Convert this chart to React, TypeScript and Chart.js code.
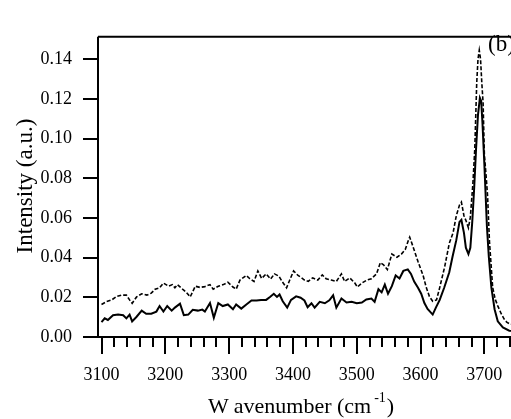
import { useEffect, useRef } from "react";
import { Chart, registerables } from "chart.js";

Chart.register(...registerables);

const FONT = '"Liberation Serif", "Times New Roman", serif';

// Solid trace
const solidWavenumber = [
  3100, 3105, 3110, 3118, 3126, 3134, 3139, 3144, 3148, 3155, 3163, 3170, 3178, 3186, 3191, 3197,
  3203, 3210, 3215, 3223, 3229, 3236, 3243, 3251, 3258, 3262, 3270, 3276, 3283, 3290, 3298, 3306,
  3311, 3319, 3327, 3335, 3343, 3350, 3358, 3364, 3370, 3375, 3379, 3384, 3391, 3397, 3405, 3412,
  3418, 3423, 3429, 3434, 3442, 3450, 3457, 3463, 3468, 3476, 3484, 3492, 3500, 3508, 3515, 3523,
  3528, 3534, 3539, 3544, 3549, 3555, 3561, 3567, 3573, 3580, 3585, 3590, 3596, 3601, 3606, 3611,
  3619, 3624, 3630, 3637, 3645, 3650, 3656, 3661, 3664, 3668, 3671, 3675, 3678, 3681, 3684, 3687,
  3690, 3693, 3695, 3697, 3700, 3704, 3707, 3711, 3716, 3721, 3729, 3739, 3760,
];
const solidIntensity = [
  0.0075, 0.0094, 0.0086, 0.011, 0.0113, 0.011, 0.0094, 0.0113, 0.0079, 0.0102, 0.0133, 0.0117, 0.0117, 0.0128, 0.0156, 0.0128,
  0.0156, 0.0133, 0.0148, 0.0168, 0.011, 0.0113, 0.0137, 0.0133, 0.0138, 0.0128, 0.0171, 0.0097, 0.0171, 0.0156, 0.0164, 0.014,
  0.0164, 0.0143, 0.0164, 0.0184, 0.0184, 0.0187, 0.0187, 0.0202, 0.0218, 0.0202, 0.0214, 0.018, 0.0148, 0.0187, 0.0205, 0.0198,
  0.0184, 0.015, 0.017, 0.0148, 0.0177, 0.017, 0.0185, 0.021, 0.0148, 0.0194, 0.0174, 0.0177, 0.017, 0.0174, 0.0189, 0.0194,
  0.0177, 0.0241, 0.0225, 0.0264, 0.0218, 0.0256, 0.031, 0.0295, 0.0333, 0.0341, 0.0318, 0.0279, 0.0248, 0.0218, 0.0171, 0.0141,
  0.0113, 0.0148, 0.0187, 0.0248, 0.0326, 0.0403, 0.0488, 0.058, 0.059, 0.0525, 0.045, 0.0418, 0.045, 0.058, 0.075, 0.095,
  0.112, 0.1205, 0.119, 0.108, 0.087, 0.0557, 0.0403, 0.0249, 0.014, 0.0079, 0.0048, 0.0032, 0.003,
];

// Dashed trace
const dashedWavenumber = [
  3100, 3108, 3116, 3124, 3131, 3139, 3144, 3148, 3155, 3163, 3171, 3178, 3184, 3191, 3197, 3205,
  3211, 3215, 3219, 3227, 3233, 3239, 3247, 3254, 3262, 3270, 3275, 3283, 3291, 3298, 3306, 3311,
  3317, 3327, 3332, 3339, 3345, 3351, 3358, 3365, 3371, 3378, 3383, 3390, 3395, 3401, 3408, 3413,
  3418, 3424, 3431, 3439, 3446, 3452, 3460, 3468, 3476, 3481, 3489, 3497, 3501, 3508, 3516, 3523,
  3531, 3537, 3542, 3548, 3555, 3563, 3570, 3576, 3581, 3583, 3588, 3596, 3604, 3609, 3614, 3619,
  3625, 3630, 3638, 3645, 3651, 3656, 3661, 3664, 3668, 3671, 3675, 3678, 3682, 3685, 3688, 3690,
  3692, 3694, 3696, 3698, 3700, 3703, 3705, 3708, 3713, 3717, 3721, 3726, 3731, 3735, 3740, 3760,
];
const dashedIntensity = [
  0.0164, 0.0179, 0.0187, 0.0205, 0.0211, 0.0211, 0.0187, 0.017, 0.0202, 0.0218, 0.0211, 0.0221, 0.0241, 0.0248, 0.0272, 0.0256,
  0.0264, 0.0248, 0.0264, 0.0241, 0.0225, 0.0202, 0.0256, 0.025, 0.0254, 0.0264, 0.0241, 0.0256, 0.0264, 0.0276, 0.0252, 0.0241,
  0.0287, 0.031, 0.0295, 0.028, 0.0333, 0.0295, 0.0318, 0.0292, 0.0318, 0.0307, 0.028, 0.0248, 0.0287, 0.0333, 0.031, 0.03,
  0.0287, 0.028, 0.0298, 0.0287, 0.0313, 0.0294, 0.0287, 0.028, 0.0318, 0.028, 0.0298, 0.0272, 0.0252, 0.0272, 0.0287, 0.0294,
  0.0318, 0.0375, 0.0364, 0.034, 0.0418, 0.0402, 0.0418, 0.0441, 0.0488, 0.0503, 0.0457, 0.038, 0.031, 0.0249, 0.0203, 0.018,
  0.0187, 0.0249, 0.0357, 0.0472, 0.0526, 0.0611, 0.0665, 0.068, 0.0611, 0.0588, 0.055, 0.0604, 0.0773, 0.095, 0.128, 0.14,
  0.1445, 0.14, 0.128, 0.118, 0.092, 0.08, 0.0712, 0.048, 0.025, 0.019, 0.0157, 0.012, 0.009, 0.0075, 0.0065, 0.006,
];

const xMajorTicks = [3100, 3200, 3300, 3400, 3500, 3600, 3700];
const xMinorStep = 20;
const yTicks = [0, 0.02, 0.04, 0.06, 0.08, 0.1, 0.12, 0.14];
const X_MIN = 3094.5;
const X_MAX = 3759.6;
const Y_MAX = 0.1513;

const toPoints = (xs: number[], ys: number[]) => xs.map((x, i) => ({ x, y: ys[i] }));

const framePlugin = {
  id: "frame",
  afterDraw(chart: any) {
    const { ctx, chartArea, scales } = chart;
    const { left, right, top, bottom } = chartArea;
    const xs = scales.x;
    const ys = scales.y;
    ctx.save();
    ctx.strokeStyle = "#000";
    ctx.fillStyle = "#000";
    ctx.lineWidth = 2;
    // plot box (the right side runs past the visible page)
    ctx.beginPath();
    ctx.moveTo(left, top);
    ctx.lineTo(right, top);
    ctx.moveTo(left, top);
    ctx.lineTo(left, bottom);
    ctx.moveTo(left, bottom);
    ctx.lineTo(right, bottom);
    ctx.moveTo(right, top);
    ctx.lineTo(right, bottom);
    ctx.stroke();

    // y tick marks (outside)
    ctx.beginPath();
    for (const v of yTicks) {
      const y = Math.round(ys.getPixelForValue(v));
      ctx.moveTo(left - 15, y);
      ctx.lineTo(left, y);
    }
    ctx.stroke();

    // x tick marks (below), long at each hundred
    ctx.beginPath();
    for (let w = 3100; w <= X_MAX; w += xMinorStep) {
      const x = Math.round(xs.getPixelForValue(w));
      const len = w % 100 === 0 ? 17 : 10;
      ctx.moveTo(x, bottom);
      ctx.lineTo(x, bottom + len);
    }
    ctx.stroke();

    // x title with superscript
    ctx.textBaseline = "alphabetic";
    ctx.textAlign = "left";
    ctx.font = `22px ${FONT}`;
    let x = 208;
    ctx.fillText("W", x, 413);
    x += ctx.measureText("W").width + 5;
    const main = "avenumber (cm";
    ctx.fillText(main, x, 413);
    x += ctx.measureText(main).width + 3;
    ctx.font = `14px ${FONT}`;
    ctx.fillText("-1", x, 402);
    x += ctx.measureText("-1").width + 1;
    ctx.font = `22px ${FONT}`;
    ctx.fillText(")", x, 413);

    // y title
    ctx.save();
    ctx.translate(32, 186);
    ctx.rotate(-Math.PI / 2);
    ctx.textAlign = "center";
    ctx.font = `23px ${FONT}`;
    ctx.fillText("Intensity (a.u.)", 0, 0);
    ctx.restore();

    // panel label
    ctx.font = `23px ${FONT}`;
    ctx.textAlign = "left";
    ctx.fillText("(b)", 488, 51);
    ctx.restore();
  },
};

export default function App() {
  const canvasRef = useRef<HTMLCanvasElement>(null);

  useEffect(() => {
    const canvas = canvasRef.current;
    if (!canvas) return;
    const chart = new Chart(canvas, {
      type: "line",
      data: {
        datasets: [
          {
            label: "dashed",
            data: toPoints(dashedWavenumber, dashedIntensity),
            borderColor: "#000",
            borderWidth: 1.6,
            borderDash: [4, 2],
            pointRadius: 0,
            tension: 0,
            fill: false,
          },
          {
            label: "solid",
            data: toPoints(solidWavenumber, solidIntensity),
            borderColor: "#000",
            borderWidth: 2,
            pointRadius: 0,
            tension: 0,
            fill: false,
          },
        ],
      },
      options: {
        animation: false,
        responsive: false,
        devicePixelRatio: 1,
        events: [],
        layout: { padding: { top: 11, right: 7, left: 0, bottom: 0 } },
        plugins: {
          legend: { display: false },
          tooltip: { enabled: false },
          title: { display: false },
        },
        scales: {
          x: {
            type: "linear",
            min: X_MIN,
            max: X_MAX,
            grid: { display: false, drawTicks: false, tickLength: 0 },
            border: { display: false },
            afterBuildTicks: (s: any) => {
              s.ticks = xMajorTicks.map((v) => ({ value: v }));
            },
            afterFit: (s: any) => {
              s.height = 82;
            },
            ticks: {
              autoSkip: false,
              maxRotation: 0,
              padding: 27,
              color: "#000",
              font: { family: FONT, size: 18 },
              callback: (v: any) => String(v),
            },
          },
          y: {
            type: "linear",
            min: 0,
            max: Y_MAX,
            grid: { display: false, drawTicks: false, tickLength: 0 },
            border: { display: false },
            afterBuildTicks: (s: any) => {
              s.ticks = yTicks.map((v) => ({ value: v }));
            },
            afterFit: (s: any) => {
              s.width = 98;
            },
            ticks: {
              padding: 26,
              color: "#000",
              font: { family: FONT, size: 18 },
              callback: (v: any) => Number(v).toFixed(2),
            },
          },
        },
      },
      plugins: [framePlugin],
    });
    return () => chart.destroy();
  }, []);

  return (
    <div
      style={{
        position: "fixed",
        left: 0,
        top: 0,
        width: 511,
        height: 419,
        overflow: "hidden",
        background: "#fff",
      }}
    >
      <canvas ref={canvasRef} width={530} height={419} style={{ display: "block", width: 530, height: 419 }} />
    </div>
  );
}
